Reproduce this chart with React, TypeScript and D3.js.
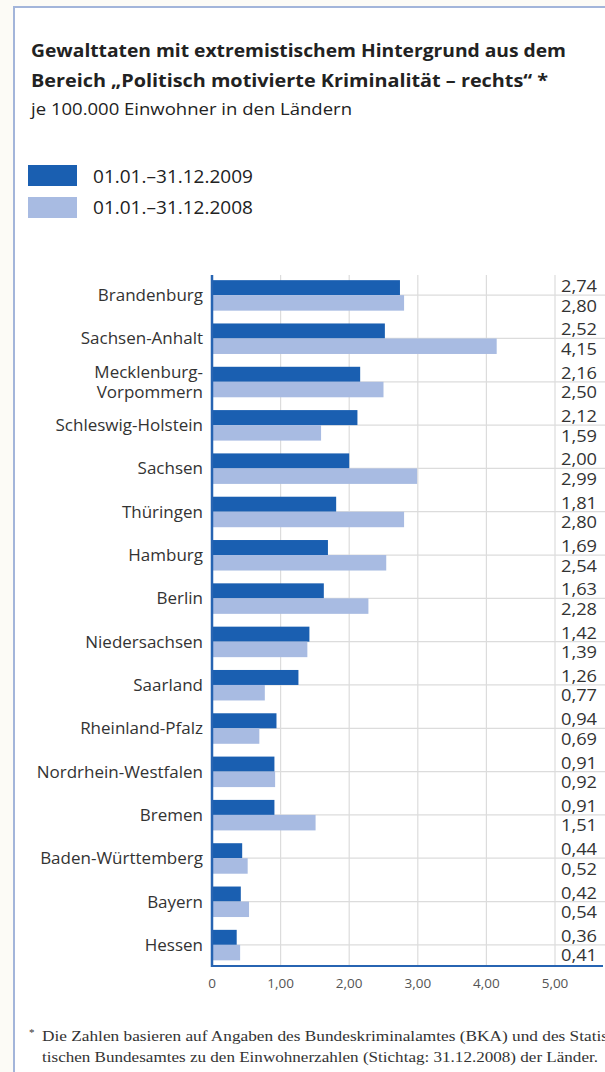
import React from "react";
import * as d3 from "d3";

const categories = [
  "Brandenburg",
  "Sachsen-Anhalt",
  "Mecklenburg-Vorpommern",
  "Schleswig-Holstein",
  "Sachsen",
  "Thüringen",
  "Hamburg",
  "Berlin",
  "Niedersachsen",
  "Saarland",
  "Rheinland-Pfalz",
  "Nordrhein-Westfalen",
  "Bremen",
  "Baden-Württemberg",
  "Bayern",
  "Hessen",
];
const values2009 = [2.74, 2.52, 2.16, 2.12, 2.0, 1.81, 1.69, 1.63, 1.42, 1.26, 0.94, 0.91, 0.91, 0.44, 0.42, 0.36];
const values2008 = [2.8, 4.15, 2.5, 1.59, 2.99, 2.8, 2.54, 2.28, 1.39, 0.77, 0.69, 0.92, 1.51, 0.52, 0.54, 0.41];
const xTicks = [0, 1, 2, 3, 4, 5];
const legendLabels = ["01.01.–31.12.2009", "01.01.–31.12.2008"];
const titleLines = [
  "Gewalttaten mit extremistischem Hintergrund aus dem",
  "Bereich „Politisch motivierte Kriminalität – rechts“ *",
];
const subtitle = "je 100.000 Einwohner in den Ländern";
const footnoteLines = [
  "Die Zahlen basieren auf Angaben des Bundeskriminalamtes (BKA) und des Statis",
  "tischen Bundesamtes zu den Einwohnerzahlen (Stichtag: 31.12.2008) der Länder.",
];

const DARK = "#1a5fb1";
const LIGHT = "#a8bbe2";
const AXIS = "#2764b2";
const GRID = "#dcdcdc";
const FRAME = "#a3b5da";
const SANS = "'Open Sans', 'Noto Sans', sans-serif";
const SERIF = "'Liberation Serif', 'DejaVu Serif', serif";

const fmt = (v: number) => v.toFixed(2).replace(".", ",");
const tickFmt = (v: number) => (v === 0 ? "0" : v.toFixed(2).replace(".", ","));

export default function App() {
  const W = 605;
  const H = 1072;
  const x = d3.scaleLinear().domain([0, 5]).range([212, 555]);
  const y = d3.scaleBand<string>().domain(categories).range([273.5, 966.5]).padding(0);
  const barH = 15;
  const plotRight = 603;
  const plotTop = 275;
  const plotBottom = 966;

  const labelLines = (c: string) => {
    if (c.length > 20 && c.includes("-")) {
      const i = c.indexOf("-");
      return [c.slice(0, i + 1), c.slice(i + 1)];
    }
    return [c];
  };

  return (
    <svg
      width={W}
      height={H}
      viewBox={`0 0 ${W} ${H}`}
      style={{ position: "absolute", left: 0, top: 0, display: "block" }}
    >
      <rect x={0} y={0} width={W} height={H} fill="#fcfbf6" />
      <rect x={14} y={7} width={W + 20} height={H + 20} fill="#ffffff" stroke={FRAME} strokeWidth={2} />

      {/* Title */}
      <text x={31} y={57} fontFamily={SANS} fontWeight={700} fontSize={18} fill="#222" textLength={535} lengthAdjust="spacingAndGlyphs">
        {titleLines[0]}
      </text>
      <text x={31} y={87} fontFamily={SANS} fontWeight={700} fontSize={18} fill="#222" textLength={517} lengthAdjust="spacingAndGlyphs">
        {titleLines[1]}
      </text>
      <text x={31} y={115} fontFamily={SANS} fontSize={17} fill="#222" textLength={321} lengthAdjust="spacingAndGlyphs">
        {subtitle}
      </text>

      {/* Legend */}
      {legendLabels.map((l, i) => (
        <g key={l}>
          <rect x={28} y={165 + i * 32} width={49} height={21} fill={i === 0 ? DARK : LIGHT} />
          <text x={93} y={183 + i * 31} fontFamily={SANS} fontSize={18} fill="#222" textLength={160} lengthAdjust="spacingAndGlyphs">
            {l}
          </text>
        </g>
      ))}

      {/* Grid */}
      {xTicks.slice(1).map((t) => (
        <line key={"v" + t} x1={x(t)} x2={x(t)} y1={plotTop} y2={plotBottom} stroke={GRID} strokeWidth={1.2} />
      ))}
      {categories.map((c) => {
        const cy = (y(c) as number) + y.bandwidth() / 2;
        return <line key={"h" + c} x1={x(0)} x2={plotRight + 5} y1={cy} y2={cy} stroke={GRID} strokeWidth={1.2} />;
      })}

      {/* Bars */}
      {categories.map((c, i) => {
        const cy = (y(c) as number) + y.bandwidth() / 2;
        return (
          <g key={"b" + c}>
            <rect x={x(0)} y={cy - barH} width={x(values2009[i]) - x(0)} height={barH} fill={DARK} />
            <rect x={x(0)} y={cy} width={x(values2008[i]) - x(0)} height={barH + 0.5} fill={LIGHT} />
          </g>
        );
      })}

      {/* Axes */}
      <line x1={x(0)} x2={x(0)} y1={plotTop} y2={plotBottom + 1} stroke={AXIS} strokeWidth={2.5} />
      <line x1={x(0) - 1} x2={plotRight} y1={plotBottom} y2={plotBottom} stroke={AXIS} strokeWidth={2} />

      {/* Category labels */}
      {categories.map((c) => {
        const cy = (y(c) as number) + y.bandwidth() / 2;
        const lines = labelLines(c);
        return (
          <text key={"l" + c} x={203} textAnchor="end" fontFamily={SANS} fontSize={17} fill="#333">
            {lines.map((ln, j) => (
              <tspan key={j} x={203} y={cy + 6 + (j - (lines.length - 1) / 2) * 20}>
                {ln}
              </tspan>
            ))}
          </text>
        );
      })}

      {/* Value labels */}
      {categories.map((c, i) => {
        const cy = (y(c) as number) + y.bandwidth() / 2;
        return (
          <g key={"v" + c} fontFamily={SANS} fontSize={16} fill="#333">
            <text x={561} y={cy - 3} textLength={36} lengthAdjust="spacingAndGlyphs">{fmt(values2009[i])}</text>
            <text x={561} y={cy + 16.5} textLength={36} lengthAdjust="spacingAndGlyphs">{fmt(values2008[i])}</text>
          </g>
        );
      })}

      {/* X tick labels */}
      {xTicks.map((t) => (
        <text key={"t" + t} x={x(t)} y={988} textAnchor="middle" fontFamily={SANS} fontSize={13.5} fill="#555">
          {tickFmt(t)}
        </text>
      ))}

      {/* Footnote */}
      <text x={29} y={1036} fontFamily={SERIF} fontSize={11} fill="#333">*</text>
      <text x={42} y={1041} fontFamily={SERIF} fontSize={15} fill="#333" textLength={566} lengthAdjust="spacingAndGlyphs">
        {footnoteLines[0]}
      </text>
      <text x={42} y={1062} fontFamily={SERIF} fontSize={15} fill="#333" textLength={556} lengthAdjust="spacingAndGlyphs">
        {footnoteLines[1]}
      </text>
    </svg>
  );
}
